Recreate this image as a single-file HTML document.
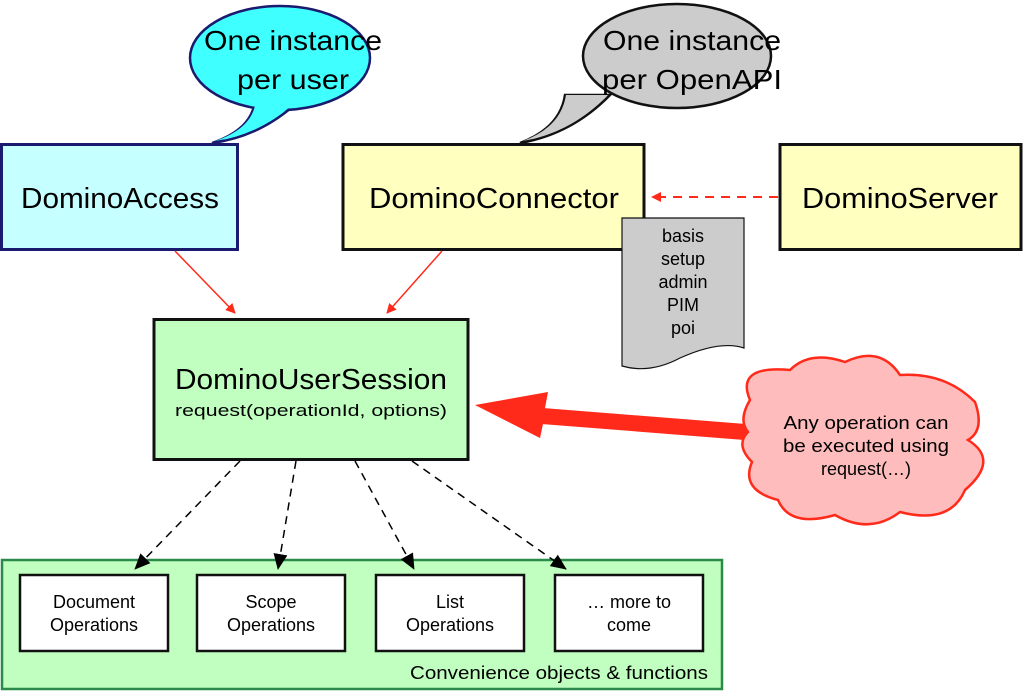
<!DOCTYPE html>
<html><head><meta charset="utf-8"><style>
html,body{margin:0;padding:0;background:#fff;}
svg{display:block;font-family:"Liberation Sans",sans-serif;}
</style></head><body>
<svg width="1024" height="693" viewBox="0 0 1024 693" xmlns="http://www.w3.org/2000/svg">
<defs>
<marker id="rh" markerWidth="10" markerHeight="10" refX="9" refY="5" orient="auto" markerUnits="userSpaceOnUse"><path d="M0,0 L10,5 L0,10 z" fill="#ff2a1a"/></marker>
<marker id="bh" markerWidth="16" markerHeight="14" refX="15" refY="7" orient="auto" markerUnits="userSpaceOnUse"><path d="M0,0 L16,7 L0,14 z" fill="#000"/></marker>
</defs>
<!-- speech bubbles -->
<path d="M255,95 Q256,128 212,143 Q265,136 305,95 Z" fill="#40ffff" stroke="#1a1a6e" stroke-width="2.5"/>
<ellipse cx="280" cy="58" rx="90" ry="52" fill="#40ffff" stroke="#1a1a6e" stroke-width="2.5"/>
<path d="M256,95 Q257,127 215,141 Q264,134 303,95 Z" fill="#40ffff"/>
<path d="M565,95 Q560,128 520,143 Q572,134 610,95 Z" fill="#cccccc" stroke="#111" stroke-width="2.5"/>
<ellipse cx="677" cy="56" rx="94" ry="52" fill="#cccccc" stroke="#111" stroke-width="2.5"/>
<path d="M566,95 Q561,127 523,141 Q571,133 608,95 Z" fill="#cccccc"/>
<text x="293" y="50" font-size="28" text-anchor="middle" textLength="178" lengthAdjust="spacingAndGlyphs">One instance</text>
<text x="293" y="89" font-size="28" text-anchor="middle" textLength="112" lengthAdjust="spacingAndGlyphs">per user</text>
<text x="692" y="50" font-size="28" text-anchor="middle" textLength="178" lengthAdjust="spacingAndGlyphs">One instance</text>
<text x="692" y="89" font-size="28" text-anchor="middle" textLength="180" lengthAdjust="spacingAndGlyphs">per OpenAPI</text>
<!-- top boxes -->
<rect x="1.5" y="144.5" width="236" height="105" fill="#c6ffff" stroke="#1a1a6e" stroke-width="3"/>
<text x="120" y="208" font-size="29" text-anchor="middle" textLength="198" lengthAdjust="spacingAndGlyphs">DominoAccess</text>
<rect x="343" y="144.5" width="301" height="105" fill="#ffffc0" stroke="#111" stroke-width="3"/>
<text x="494" y="208" font-size="29" text-anchor="middle" textLength="250" lengthAdjust="spacingAndGlyphs">DominoConnector</text>
<rect x="780" y="144.5" width="241" height="105" fill="#ffffc0" stroke="#111" stroke-width="3"/>
<text x="900" y="208" font-size="29" text-anchor="middle" textLength="196" lengthAdjust="spacingAndGlyphs">DominoServer</text>
<!-- dashed red -->
<line x1="778" y1="197" x2="652" y2="197" stroke="#ff2a1a" stroke-width="2" stroke-dasharray="9,7" marker-end="url(#rh)"/>
<!-- doc -->
<path d="M622,218 L744,218 L744,348 Q720,340 680,358 Q650,374 622,366 Z" fill="#cccccc" stroke="#111" stroke-width="1.2"/>
<g font-size="18" text-anchor="middle"><text x="683" y="242">basis</text><text x="683" y="265">setup</text><text x="683" y="288">admin</text><text x="683" y="311">PIM</text><text x="683" y="334">poi</text></g>
<!-- red arrows -->
<line x1="175" y1="251" x2="235" y2="313" stroke="#ff2a1a" stroke-width="1.5" marker-end="url(#rh)"/>
<line x1="442" y1="251" x2="387" y2="313" stroke="#ff2a1a" stroke-width="1.5" marker-end="url(#rh)"/>
<!-- user session -->
<rect x="154" y="319.5" width="314" height="140" fill="#c0ffc0" stroke="#111" stroke-width="3"/>
<text x="311" y="389" font-size="29" text-anchor="middle" textLength="272" lengthAdjust="spacingAndGlyphs">DominoUserSession</text>
<text x="311" y="416" font-size="17" text-anchor="middle" textLength="272" lengthAdjust="spacingAndGlyphs">request(operationId, options)</text>
<!-- big arrow -->
<path d="M545,408 L548,392 L475,405 L540,438 L543,424 Z" fill="#ff2a1a"/>
<line x1="745" y1="432" x2="542" y2="416" stroke="#ff2a1a" stroke-width="16" stroke-linecap="round"/>
<!-- cloud -->
<path d="M750,400 Q735,365 790,370 Q810,350 845,362 Q880,345 900,375 Q945,372 975,402 Q985,430 968,440 Q1000,460 965,490 Q950,525 900,512 Q870,535 835,515 Q790,528 778,500 Q740,490 752,462 Q735,445 748,432 Q738,420 750,400 Z" fill="#ffbcbc" stroke="#ff2a1a" stroke-width="2.5"/>
<g font-size="18" text-anchor="middle"><text x="866" y="429" textLength="165" lengthAdjust="spacingAndGlyphs">Any operation can</text><text x="866" y="452" textLength="166" lengthAdjust="spacingAndGlyphs">be executed using</text><text x="866" y="475">request(…)</text></g>
<!-- bottom container -->
<rect x="2" y="560" width="720" height="129" fill="#c0ffc0" stroke="#2a8a4a" stroke-width="2.5"/>
<!-- dashed black arrows -->
<g stroke="#000" stroke-width="1.5" stroke-dasharray="8,6" fill="none">
<line x1="240" y1="461" x2="135" y2="569" marker-end="url(#bh)"/>
<line x1="296" y1="461" x2="278" y2="569" marker-end="url(#bh)"/>
<line x1="355" y1="461" x2="414" y2="569" marker-end="url(#bh)"/>
<line x1="412" y1="461" x2="566" y2="569" marker-end="url(#bh)"/>
</g>
<g fill="#fff" stroke="#111" stroke-width="2.5">
<rect x="20" y="575" width="148" height="76"/><rect x="197" y="575" width="148" height="76"/>
<rect x="376" y="575" width="148" height="76"/><rect x="555" y="575" width="148" height="76"/>
</g>
<g font-size="18" text-anchor="middle">
<text x="94" y="608">Document</text><text x="94" y="631">Operations</text>
<text x="271" y="608">Scope</text><text x="271" y="631">Operations</text>
<text x="450" y="608">List</text><text x="450" y="631">Operations</text>
<text x="629" y="608">… more to</text><text x="629" y="631">come</text>
</g>
<text x="708" y="679" font-size="18" text-anchor="end" textLength="298" lengthAdjust="spacingAndGlyphs">Convenience objects &amp; functions</text>
</svg>
</body></html>
